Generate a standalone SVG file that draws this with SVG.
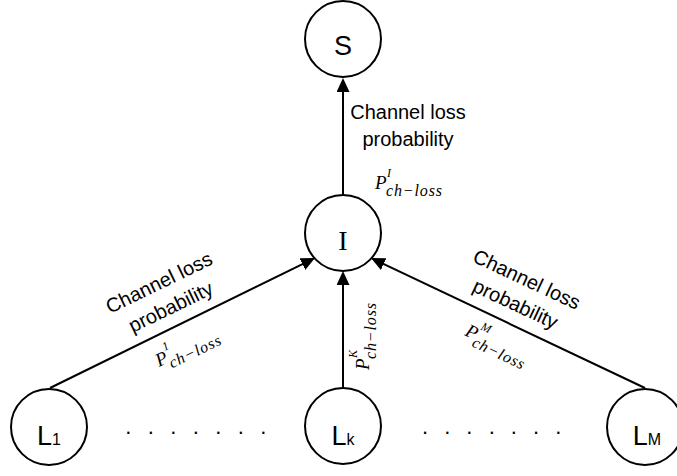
<svg xmlns="http://www.w3.org/2000/svg" width="677" height="476" viewBox="0 0 677 476">
<style>
.node{fill:#fff;stroke:#000;stroke-width:2}
.nl{font-family:"Liberation Sans",Arial,sans-serif;font-size:27px;text-anchor:middle;fill:#000}
.sub{font-size:16px}
.el{font-family:"Liberation Sans",Arial,sans-serif;font-size:20px;text-anchor:middle;fill:#000}
.m{font-family:"Liberation Serif","Times New Roman",serif;font-style:italic;fill:#000}
.mp{font-size:19px}
.ms{font-size:12px}
.mb{font-size:16px}
.conn{stroke:#000;stroke-width:2;fill:none;marker-end:url(#arr)}
.dots{font-family:"Liberation Sans",Arial,sans-serif;font-size:22px;text-anchor:middle;fill:#000}
</style>
<defs>
<marker id="arr" markerUnits="userSpaceOnUse" markerWidth="16" markerHeight="16" refX="12" refY="6.5" orient="auto">
<path d="M0,0 L14,6.5 L0,13 z" fill="#000"/>
</marker>
</defs>
<rect width="677" height="476" fill="#fff"/>
<g id="connectors">
<line class="conn" x1="343" y1="195" x2="343" y2="80"/>
<line class="conn" x1="50" y1="388" x2="313.2" y2="258.9"/>
<line class="conn" x1="343" y1="388" x2="343" y2="273"/>
<line class="conn" x1="645" y1="388" x2="372.8" y2="258.9"/>
</g>
<g id="edge-labels">
<text class="el" x="408" y="119">Channel loss</text>
<text class="el" x="408" y="146">probability</text>
<g transform="translate(375,189)">
<text class="m mp" x="0" y="0">P</text>
<text class="m ms" x="12" y="-12">I</text>
<text class="m mb" x="11" y="7" textLength="56" lengthAdjust="spacing">ch−loss</text>
</g>
<g transform="translate(165,295) rotate(-26)">
<text class="el" x="0" y="-7">Channel loss</text>
<text class="el" x="0" y="20">probability</text>
</g>
<g transform="translate(159,367) rotate(-26)">
<text class="m mp" x="0" y="0">P</text>
<text class="m ms" x="12" y="-12">1</text>
<text class="m mb" x="11" y="7" textLength="56" lengthAdjust="spacing">ch−loss</text>
</g>
<g transform="translate(521,292) rotate(25)">
<text class="el" x="0" y="-7">Channel loss</text>
<text class="el" x="0" y="20">probability</text>
</g>
<g transform="translate(464,335) rotate(25)">
<text class="m mp" x="0" y="0">P</text>
<text class="m ms" x="12" y="-12">M</text>
<text class="m mb" x="11" y="7" textLength="56" lengthAdjust="spacing">ch−loss</text>
</g>
<g transform="translate(369,370) rotate(-90)">
<text class="m mp" x="0" y="0">P</text>
<text class="m ms" x="12" y="-12">K</text>
<text class="m mb" x="11" y="7" textLength="56" lengthAdjust="spacing">ch−loss</text>
</g>
</g>
<g id="node-S">
<circle class="node" cx="343" cy="39" r="38"/>
<text class="nl" x="343" y="55">S</text>
</g>
<g id="node-I">
<circle class="node" cx="343" cy="233" r="38"/>
<text x="343" y="250" font-family="'Liberation Serif','Times New Roman',serif" font-size="28" text-anchor="middle">I</text>
</g>
<g id="node-L1">
<circle class="node" cx="49" cy="427" r="38"/>
<text class="nl" x="49" y="445">L<tspan class="sub">1</tspan></text>
</g>
<g id="node-Lk">
<circle class="node" cx="343" cy="426" r="38"/>
<text class="nl" x="343" y="445">L<tspan class="sub">k</tspan></text>
</g>
<g id="node-LM">
<circle class="node" cx="645" cy="427" r="38"/>
<text class="nl" x="647" y="445">L<tspan class="sub">M</tspan></text>
</g>
<g id="ellipsis">
<text class="dots" x="128.3 150.8 173.3 195.8 218.3 240.8 263.3" y="434">.......</text>
<text class="dots" x="425 447.2 469.4 491.7 513.9 536.1 558.3" y="434">.......</text>
</g>
</svg>
